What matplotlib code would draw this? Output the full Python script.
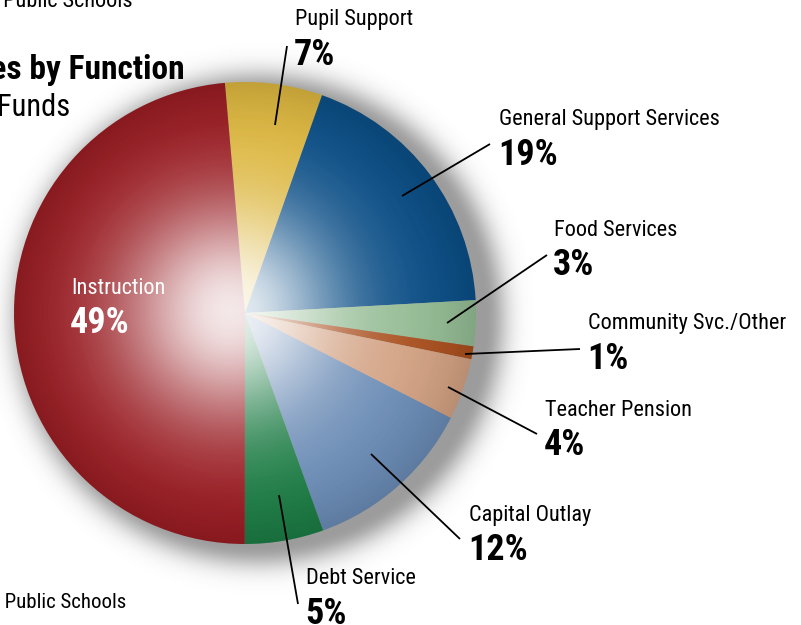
import numpy as np
import matplotlib
matplotlib.use("Agg")
import matplotlib.pyplot as plt
from matplotlib.patches import Circle
from matplotlib import font_manager

names = sorted({f.name for f in font_manager.fontManager.ttflist})
narrow = [n for n in ["Liberation Sans Narrow", "Roboto Condensed", "DejaVu Sans Condensed",
                      "Open Sans Condensed", "Noto Sans Condensed", "Liberation Sans"] if n in names]
plt.rcParams['font.family'] = narrow[:1] + ['DejaVu Sans']

# --- data (clockwise from just left of the top) ---
labels = ["Pupil Support", "General Support Services", "Food Services",
          "Community Svc./Other", "Teacher Pension", "Capital Outlay",
          "Debt Service", "Instruction"]
shares = [6.8, 18.7, 3.2, 0.9, 4.3, 12.0, 5.5, 48.6]
pct_text = ["7%", "19%", "3%", "1%", "4%", "12%", "5%", "49%"]
colors = ["#dcb63e", "#0b4e86", "#93bb93", "#a94f1e", "#d2a182",
          "#6a8bb5", "#1b7b43", "#981b21"]

W, H = 801, 625
CX, CY, R = 245, 312, 231   # pie centre / radius in pixels (y up)

fig = plt.figure(figsize=(W / 100, H / 100), dpi=100)
ax = fig.add_axes([0, 0, 1, 1])

def py(y):
    # pixel row from top -> data y
    return H - y

# drop shadow behind the pie
xx, yy = np.meshgrid(np.arange(W) + 0.5, np.arange(H) + 0.5)
ds = np.hypot(xx - (CX + 14), yy - (CY - 6))
sh_alpha = np.where(ds < R - 4, 0.55, 0.55 * np.exp(-((ds - (R - 4)) / 22.0) ** 2))
shadow = np.zeros((H, W, 4))
shadow[..., :3] = 0.3
shadow[..., 3] = sh_alpha
ax.imshow(shadow, extent=(0, W, 0, H), origin="lower", zorder=0)

wedges, _ = ax.pie(shares, colors=colors, startangle=95, counterclock=False,
                   center=(CX, CY), radius=R,
                   wedgeprops=dict(linewidth=0, zorder=1))

# glossy highlight, clipped to the disc
d = np.hypot(xx - 230, yy - (CY + 2))
hl = np.zeros((H, W, 4))
hl[..., :3] = 1.0
hl[..., 3] = 0.9 * np.exp(-(d / 110.0) ** 2)
hl_img = ax.imshow(hl, extent=(0, W, 0, H), origin="lower", zorder=2)
hl_img.set_clip_path(Circle((CX, CY), R, transform=ax.transData))

# darker rim
dr = np.hypot(xx - CX, yy - CY)
rim = np.zeros((H, W, 4))
rim[..., 3] = np.clip((dr - 150) / (R - 150), 0, 1) ** 2 * 0.12
rim_img = ax.imshow(rim, extent=(0, W, 0, H), origin="lower", zorder=2)
rim_img.set_clip_path(Circle((CX, CY), R, transform=ax.transData))

ax.set_xlim(0, W)
ax.set_ylim(0, H)
ax.set_aspect("auto")
ax.axis("off")

# label layout (pixel coords from top-left)
name_pos = [(295, 20), (499, 120), (554, 230), (588, 324),
            (545, 410), (469, 515), (306, 579), (71, 288)]
pct_gap = 35
leaders = [((275, 125), (287, 46)), ((402, 196), (490, 144)),
           ((447, 323), (547, 255)), ((465, 354), (580, 349)),
           ((448, 387), (537, 434)), ((371, 454), (460, 539)),
           ((279, 495), (298, 604)), None]

for lab, pct, (x, y), ln in zip(labels, pct_text, name_pos, leaders):
    col = "white" if ln is None else "black"
    ax.text(x, py(y), lab, fontsize=16, color=col, ha="left", va="center", zorder=5)
    ax.text(x - 1, py(y + pct_gap), pct, fontsize=26, fontweight="bold",
            color=col, ha="left", va="center", zorder=5)
    if ln is not None:
        (x0, y0), (x1, y1) = ln
        ax.plot([x0, x1], [py(y0), py(y1)], color="black", lw=1.3, zorder=4,
                solid_capstyle="butt")

# titles (cropped at the left edge of the image)
ax.text(133, py(1), "Payments to Public Schools", fontsize=16, ha="right",
        va="center", zorder=5)
ax.text(185, py(70), "Total Expenditures by Function", fontsize=24,
        fontweight="bold", ha="right", va="center", zorder=5)
ax.text(70, py(108), "All Funds", fontsize=22, ha="right", va="center", zorder=5)
ax.text(126, py(602), "Payments to Public Schools", fontsize=15, ha="right",
        va="center", zorder=5)

fig.savefig("out.png", dpi=100)
